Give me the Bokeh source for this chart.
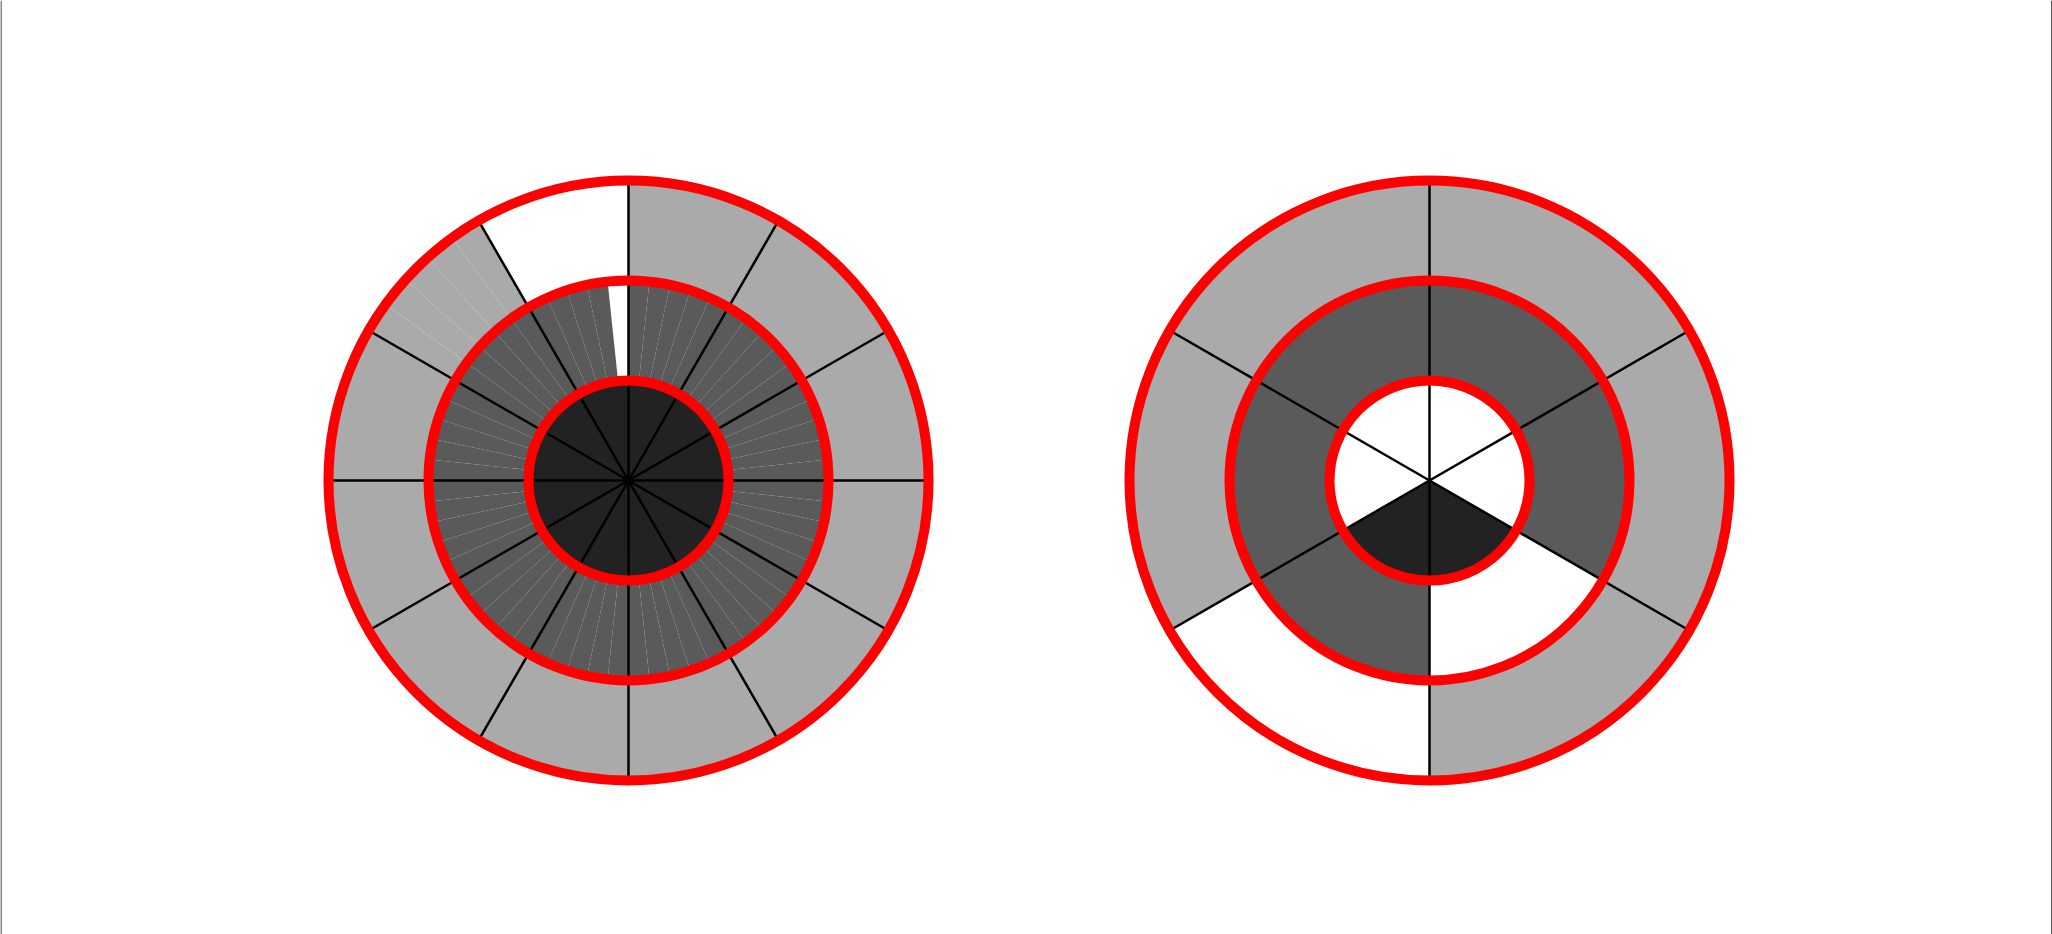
import numpy as np
from bokeh.plotting import figure
from bokeh.models import ColumnDataSource, Range1d, Span
from bokeh.embed import file_html
from bokeh.resources import INLINE

# ---- data -------------------------------------------------------------
# grey level of each segment: 0 = white, 1 = light, 2 = mid, 3 = dark
level_colors = ["#ffffff", "#aaaaaa", "#5a5a5a", "#222222"]
ring_radii = [0.0, 1 / 3, 2 / 3, 1.0]          # inner disc, middle ring, outer ring

# Left bullseye (segments counter-clockwise from 12 o'clock)
left_inner_span = [30] * 12
left_inner_level = [3] * 12
left_middle_span = [6] * 60
left_middle_level = [0] + [2] * 59
left_outer_span = [30, 6, 6, 6, 6, 6] + [30] * 10
left_outer_level = [0, 1, 1, 1, 1, 1] + [1] * 10
left_dividers = [0, 30, 60, 90, 120, 150, 180, 210, 240, 270, 300, 330]

# Right bullseye
right_inner_span = [60] * 6
right_inner_level = [0, 0, 3, 3, 0, 0]
right_middle_span = [60] * 6
right_middle_level = [2, 2, 2, 0, 2, 2]
right_outer_span = [60] * 6
right_outer_level = [1, 1, 0, 1, 1, 1]
right_dividers = [30, 90, 150, 210, 270, 330]

# ---- layout -----------------------------------------------------------
W, H = 2052, 934
S = 300.0                      # pixels per data unit
left_cx_px, right_cx_px, cy_px = 628, 1429, 480
left_cx = 0.0
right_cx = (right_cx_px - left_cx_px) / S

p = figure(width=W, height=H, output_backend="svg", toolbar_location=None,
           x_range=Range1d(-left_cx_px / S, (W - left_cx_px) / S),
           y_range=Range1d(-(H - cy_px) / S, cy_px / S),
           min_border=0, min_border_left=0, min_border_right=0,
           min_border_top=0, min_border_bottom=0)
p.xaxis.visible = False
p.yaxis.visible = False
p.xgrid.visible = False
p.ygrid.visible = False
p.outline_line_color = None
p.background_fill_color = "white"
p.border_fill_color = "white"


def ring_rows(cx, spans, levels, r0, r1):
    start = 90.0
    rows = []
    for sp, lv in zip(spans, levels):
        rows.append((cx, r0, r1, np.deg2rad(start), np.deg2rad(start + sp), level_colors[lv]))
        start += sp
    return rows


rows = []
rows += ring_rows(left_cx, left_inner_span, left_inner_level, ring_radii[0], ring_radii[1])
rows += ring_rows(left_cx, left_middle_span, left_middle_level, ring_radii[1], ring_radii[2])
rows += ring_rows(left_cx, left_outer_span, left_outer_level, ring_radii[2], ring_radii[3])
rows += ring_rows(right_cx, right_inner_span, right_inner_level, ring_radii[0], ring_radii[1])
rows += ring_rows(right_cx, right_middle_span, right_middle_level, ring_radii[1], ring_radii[2])
rows += ring_rows(right_cx, right_outer_span, right_outer_level, ring_radii[2], ring_radii[3])

wsrc = ColumnDataSource(dict(
    x=[r[0] for r in rows], y=[0.0] * len(rows),
    r0=[r[1] for r in rows], r1=[r[2] for r in rows],
    a0=[r[3] for r in rows], a1=[r[4] for r in rows],
    color=[r[5] for r in rows]))
p.annular_wedge(x="x", y="y", inner_radius="r0", outer_radius="r1",
                start_angle="a0", end_angle="a1", direction="anticlock",
                fill_color="color", line_color=None, source=wsrc)

# radial divider lines
dx0, dy0, dx1, dy1 = [], [], [], []
for cx, divs in ((left_cx, left_dividers), (right_cx, right_dividers)):
    for a in divs:
        t = np.deg2rad(a)
        dx0.append(cx)
        dy0.append(0.0)
        dx1.append(cx + ring_radii[3] * np.cos(t))
        dy1.append(ring_radii[3] * np.sin(t))
p.segment(x0=dx0, y0=dy0, x1=dx1, y1=dy1, line_color="black", line_width=2.5)

# red ring boundaries
cxs, crs = [], []
for cx in (left_cx, right_cx):
    for r in ring_radii[1:]:
        cxs.append(cx)
        crs.append(r)
p.circle(x=cxs, y=[0.0] * len(cxs), radius=crs, fill_color=None,
         line_color="#ff0000", line_width=10)

# thin grey side borders
p.add_layout(Span(location=p.x_range.start, dimension="height", line_color="#888888", line_width=3))
p.add_layout(Span(location=p.x_range.end, dimension="height", line_color="#555555", line_width=3))

open("out.html", "w").write(file_html(p, INLINE))
